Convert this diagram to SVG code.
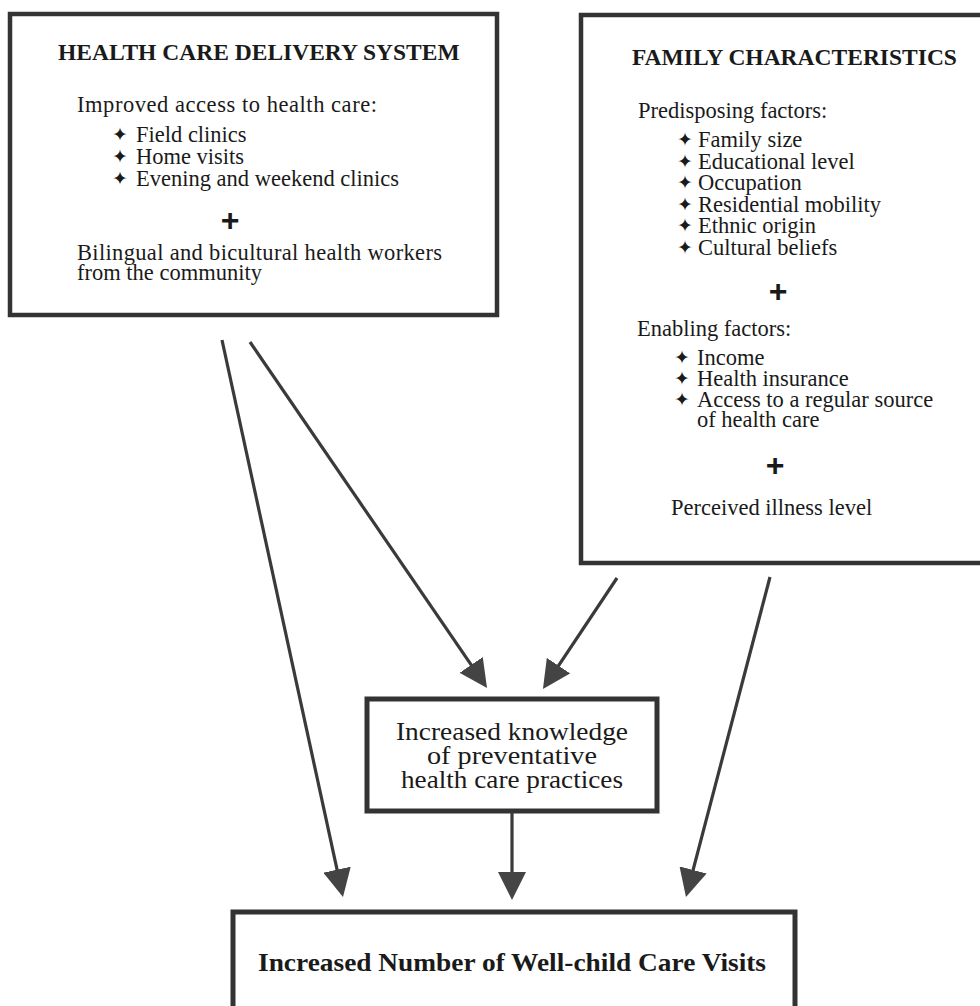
<svg xmlns="http://www.w3.org/2000/svg" width="980" height="1006" viewBox="0 0 980 1006">
<style>
.box{fill:#fff;stroke:#333;stroke-width:4.5}
.t{font-family:"Liberation Serif","Times New Roman",serif;font-size:22.5px;fill:#1a1a1a}
.h{font-family:"Liberation Serif","Times New Roman",serif;font-size:23.5px;font-weight:bold;fill:#1a1a1a}
.b{font-family:"DejaVu Sans",sans-serif;font-size:19px;fill:#1a1a1a}
.p{font-family:"Liberation Sans",Arial,sans-serif;font-size:32px;font-weight:bold;fill:#1a1a1a;text-anchor:middle}
.k{font-family:"Liberation Serif","Times New Roman",serif;font-size:26px;fill:#1a1a1a;text-anchor:middle}
.bt{font-family:"Liberation Serif","Times New Roman",serif;font-size:25px;font-weight:bold;fill:#1a1a1a;text-anchor:middle}
.c{stroke:#3a3a3a;stroke-width:3.2;fill:none;marker-end:url(#ah)}
</style>
<defs>
<marker id="ah" viewBox="0 0 28 28" refX="20" refY="14" markerWidth="28" markerHeight="28" markerUnits="userSpaceOnUse" orient="auto">
<path d="M0,0 L28,14 L0,28 Z" fill="#444"/>
</marker>
</defs>
<rect width="980" height="1006" fill="#fff"/>

<g id="health-care-delivery-system">
<rect class="box" x="10" y="14" width="487" height="301"/>
<text class="h" x="58" y="60">HEALTH CARE DELIVERY SYSTEM</text>
<text class="t" x="77" y="112" textLength="300">Improved access to health care:</text>
<text class="b" x="112" y="141">✦</text><text class="t" x="136" y="142">Field clinics</text>
<text class="b" x="112" y="163">✦</text><text class="t" x="136" y="164">Home visits</text>
<text class="b" x="112" y="185">✦</text><text class="t" x="136" y="186">Evening and weekend clinics</text>
<text class="p" x="230" y="231">+</text>
<text class="t" x="77" y="260" textLength="365">Bilingual and bicultural health workers</text>
<text class="t" x="77" y="280">from the community</text>
</g>

<g id="family-characteristics">
<rect class="box" x="581" y="15" width="420" height="548"/>
<text class="h" x="632" y="65">FAMILY CHARACTERISTICS</text>
<text class="t" x="638" y="118">Predisposing factors:</text>
<text class="b" x="677" y="146">✦</text><text class="t" x="698" y="147">Family size</text>
<text class="b" x="677" y="167.5">✦</text><text class="t" x="698" y="168.5">Educational level</text>
<text class="b" x="677" y="189">✦</text><text class="t" x="698" y="190">Occupation</text>
<text class="b" x="677" y="210.5">✦</text><text class="t" x="698" y="211.5">Residential mobility</text>
<text class="b" x="677" y="232">✦</text><text class="t" x="698" y="233">Ethnic origin</text>
<text class="b" x="677" y="253.5">✦</text><text class="t" x="698" y="254.5">Cultural beliefs</text>
<text class="p" x="778" y="301.5">+</text>
<text class="t" x="637" y="336">Enabling factors:</text>
<text class="b" x="674" y="364">✦</text><text class="t" x="697" y="365">Income</text>
<text class="b" x="674" y="385">✦</text><text class="t" x="697" y="386">Health insurance</text>
<text class="b" x="674" y="406">✦</text><text class="t" x="697" y="407">Access to a regular source</text>
<text class="t" x="697" y="427">of health care</text>
<text class="p" x="775" y="476">+</text>
<text class="t" x="671" y="515">Perceived illness level</text>
</g>

<g id="increased-knowledge">
<rect class="box" x="367" y="699" width="290" height="112" style="stroke-width:5"/>
<text class="k" x="512" y="740" textLength="232" lengthAdjust="spacingAndGlyphs">Increased knowledge</text>
<text class="k" x="512" y="764" textLength="170" lengthAdjust="spacingAndGlyphs">of preventative</text>
<text class="k" x="512" y="788" textLength="222" lengthAdjust="spacingAndGlyphs">health care practices</text>
</g>

<g id="well-child-visits">
<rect class="box" x="233" y="912" width="562" height="130" style="stroke-width:5"/>
<text class="bt" x="512" y="971" textLength="508" lengthAdjust="spacingAndGlyphs">Increased Number of Well-child Care Visits</text>
</g>

<g id="connectors">
<line class="c" x1="222" y1="340" x2="341.3" y2="889.2"/>
<line class="c" x1="250" y1="342" x2="482.5" y2="681.4"/>
<line class="c" x1="617" y1="578" x2="547.4" y2="682.3"/>
<line class="c" x1="770" y1="577" x2="688" y2="889.3"/>
<line class="c" x1="512" y1="811" x2="512" y2="892"/>
</g>
</svg>
